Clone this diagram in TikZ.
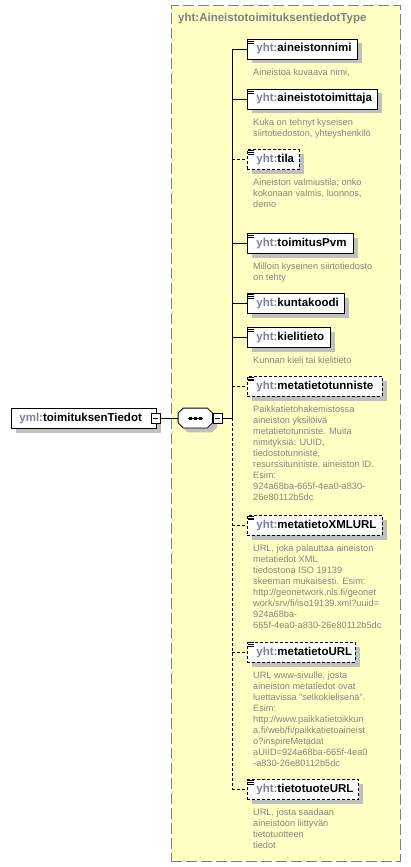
\documentclass[tikz,border=0pt]{standalone}
\usepackage{fontspec}
\setmainfont{Liberation Sans}
\usetikzlibrary{shadows}
\definecolor{bgyellow}{HTML}{FFFFC4}
\definecolor{framegray}{HTML}{808080}
\definecolor{shadowgray}{HTML}{C0C0C0}
\definecolor{descgray}{HTML}{858585}
\definecolor{prefixgray}{HTML}{7E7EA0}
\newcommand\namefont{\fontsize{11.5bp}{13bp}\selectfont\bfseries}
\newcommand\descfont{\fontsize{9.2bp}{11bp}\selectfont}
\newcommand\pfx[1]{\textcolor{prefixgray}{#1}}
\newcommand\fl{\rule{0pt}{7bp}}
\newcommand\docicon[1]{\foreach \dy in {-1.0,-2.8,-4.6}{\draw[line width=0.6bp] ([xshift=1.2bp,yshift=\dy bp]#1.north west) -- ++(6bp,0pt);}}
\newcommand\seqpoly[2]{([shift={(#1+5bp,#2)}]seq.north west) -- ([shift={(#1-5bp,#2)}]seq.north east) -- ([shift={(#1,#2-5bp)}]seq.north east) -- ([shift={(#1,#2+5bp)}]seq.south east) -- ([shift={(#1-5bp,#2)}]seq.south east) -- ([shift={(#1+5bp,#2)}]seq.south west) -- ([shift={(#1,#2+5bp)}]seq.south west) -- ([shift={(#1,#2-5bp)}]seq.north west) -- cycle}
\tikzset{
  boxshadow/.style={general shadow={fill=shadowgray, shadow xshift=4.5bp, shadow yshift=-4.5bp}},
  elembox/.style={draw=black, fill=white, line width=0.8bp, inner sep=0pt,
    minimum height=20bp, text width=#1, align=left, anchor=north west,
    font=\namefont, text height=8.3bp, text depth=2.4bp, boxshadow},
  optbox/.style={elembox=#1, dash pattern=on 3bp off 2bp},
  descnode/.style={font=\descfont, text=descgray, align=left, inner sep=0pt, anchor=north west},
  minusbox/.style={draw=black, fill=white, line width=0.8bp, minimum width=9bp, minimum height=10bp, inner sep=0pt,
    path picture={\draw[line width=0.8bp] ([xshift=2bp]path picture bounding box.west) -- ([xshift=-2bp]path picture bounding box.east);}},
  seqframe/.style={draw=none, minimum width=34bp, minimum height=19.4bp, inner sep=0pt},
  conn/.style={draw=black, line width=0.8bp},
  optconn/.style={conn, dash pattern=on 3bp off 2bp},
  container/.style={draw=framegray, fill=bgyellow, dash pattern=on 11bp off 4bp, line width=0.8bp, inner sep=0pt, anchor=north west}
}
\begin{document}
\begin{tikzpicture}[x=1bp,y=-1bp]
\useasboundingbox (0,0) rectangle (410,867);
\fill[white] (0,0) rectangle (410,867);
% container
\node[container, minimum width=228.5bp, minimum height=856bp] (type) at (171,5.3) {};
\node[font=\namefont, text=framegray, anchor=west, inner sep=0pt] (title) at (178,19) {yht:AineistotoimituksentiedotType};
% root element
\node[elembox=144.7bp] (root) at (11,408) {\hspace*{8bp}\pfx{yml:}toimituksenTiedot};
\node[minusbox] (rootmin) at (155.7,418) {};
% sequence
\node[seqframe] (seq) at (195.3,418) {};
\fill[shadowgray] \seqpoly{4.5bp}{-4.5bp};
\filldraw[fill=white, draw=black, line width=0.8bp] \seqpoly{0bp}{0bp};
\draw[line width=0.8bp] ([xshift=-7.8bp]seq.center) -- ([xshift=7.8bp]seq.center);
\foreach \d in {-5,0,5} \fill ([xshift=\d bp]seq.center) +(-1.7bp,-1.5bp) rectangle +(1.7bp,1.5bp);
\node[minusbox] (seqmin) at (217.5,418) {};
\coordinate (tr) at (232,418);
% children
\node[elembox=110bp] (n1) at (247,38.5) {\hspace*{9bp}\pfx{yht:}aineistonnimi};
\node[elembox=130bp] (n2) at (247,88.5) {\hspace*{9bp}\pfx{yht:}aineistotoimittaja};
\node[optbox=52bp] (n3) at (247,149.3) {\hspace*{9bp}\pfx{yht:}tila};
\node[elembox=105.7bp] (n4) at (247,232.7) {\hspace*{9bp}\pfx{yht:}toimitusPvm};
\node[elembox=97.3bp] (n5) at (247,293.3) {\hspace*{9bp}\pfx{yht:}kuntakoodi};
\node[elembox=83bp] (n6) at (247,326.7) {\hspace*{9bp}\pfx{yht:}kielitieto};
\node[optbox=134.7bp] (n7) at (247,376) {\hspace*{9bp}\pfx{yht:}metatietotunniste};
\node[optbox=134.7bp] (n8) at (247,515) {\hspace*{9bp}\pfx{yht:}metatietoXMLURL};
\node[optbox=108bp] (n9) at (247,641.7) {\hspace*{9bp}\pfx{yht:}metatietoURL};
\node[optbox=111.3bp] (n10) at (247,779.3) {\hspace*{9bp}\pfx{yht:}tietotuoteURL};
\foreach \n in {n1,n2,n3,n4,n5,n6,n7,n8,n9,n10} {\docicon{\n}}
% descriptions
\node[descnode] (d1) at ([xshift=6bp,yshift=-8.5bp]n1.south west) {\fl Aineistoa kuvaava nimi,};
\node[descnode] (d2) at ([xshift=6bp,yshift=-8.5bp]n2.south west) {\fl Kuka on tehnyt kyseisen\\siirtotiedoston, yhteyshenkilö};
\node[descnode] (d3) at ([xshift=6bp,yshift=-8.5bp]n3.south west) {\fl Aineiston valmiustila; onko\\kokonaan valmis, luonnos,\\demo};
\node[descnode] (d4) at ([xshift=6bp,yshift=-8.5bp]n4.south west) {\fl Milloin kyseinen siirtotiedosto\\on tehty};
\node[descnode] (d6) at ([xshift=6bp,yshift=-8.5bp]n6.south west) {\fl Kunnan kieli tai kielitieto};
\node[descnode] (d7) at ([xshift=6bp,yshift=-8.5bp]n7.south west) {\fl Paikkatietohakemistossa\\aineiston yksilöivä\\metatietotunniste. Muita\\nimityksiä: UUID,\\tiedostotunniste,\\resurssitunniste, aineiston ID.\\Esim:\\924a68ba-665f-4ea0-a830-\\26e80112b5dc};
\node[descnode] (d8) at ([xshift=6bp,yshift=-8.5bp]n8.south west) {\fl URL, joka palauttaa aineiston\\metatiedot XML\\tiedostona ISO 19139\\skeeman mukaisesti. Esim:\\http://geonetwork.nls.fi/geonet\\work/srv/fi/iso19139.xml?uuid=\\924a68ba-\\665f-4ea0-a830-26e80112b5dc};
\node[descnode] (d9) at ([xshift=6bp,yshift=-8.5bp]n9.south west) {\fl URL www-sivulle, josta\\aineiston metatiedot ovat\\luettavissa "selkokielisenä".\\Esim:\\http://www.paikkatietoikkun\\a.fi/web/fi/paikkatietoaineist\\o?inspireMetadat\\aUIID=924a68ba-665f-4ea0\\-a830-26e80112b5dc};
\node[descnode] (d10) at ([xshift=6bp,yshift=-8.5bp]n10.south west) {\fl URL, josta saadaan\\aineistoon liittyvän\\tietotuotteen\\tiedot};
% connectors
\draw[conn] (rootmin.east) -- (seq.west);
\draw[conn] (seqmin.east) -- (tr);
\draw[conn] (tr |- n1.west) -- (tr);
\draw[optconn] (tr) -- (tr |- n10.west);
\foreach \n in {n1,n2,n4,n5,n6} {\draw[conn] (tr |- \n.west) -- (\n.west);}
\foreach \n in {n3,n7,n8,n9,n10} {\draw[optconn] (tr |- \n.west) -- (\n.west);}
\end{tikzpicture}
\end{document}
